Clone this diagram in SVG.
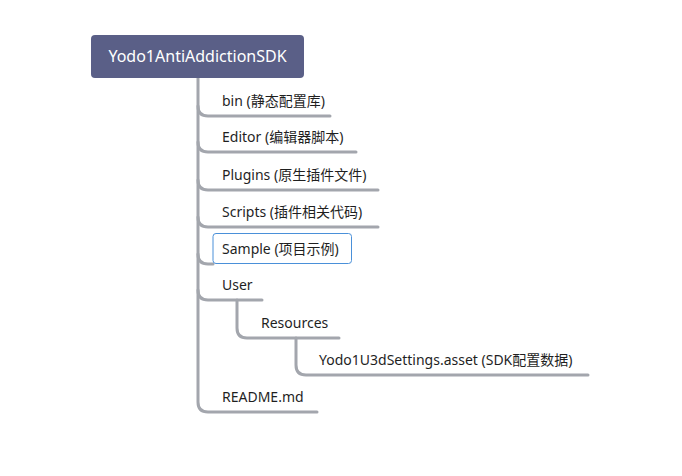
<svg xmlns="http://www.w3.org/2000/svg" width="682" height="476" viewBox="0 0 682 476">
<style>
.t{font-family:"Noto Sans","Noto Sans CJK SC",sans-serif;font-size:14px;fill:#1f1f1f}
.c{fill:none;stroke:#a3a6ad;stroke-width:3;stroke-linecap:round}
</style>
<rect width="682" height="476" fill="#ffffff"/>
<g id="connectors">
<path class="c" d="M198,78 V402 Q198,412 208,412 H317"/>
<path class="c" d="M198,106 Q198,116 208,116 H330"/>
<path class="c" d="M198,142 Q198,152 208,152 H356"/>
<path class="c" d="M198,180 Q198,190 208,190 H378"/>
<path class="c" d="M198,217 Q198,227 208,227 H378"/>
<path class="c" d="M198,254 Q198,264 208,264 H213"/>
<path class="c" d="M198,290 Q198,300 208,300 H262"/>
<path class="c" d="M237,300 V328 Q237,338 247,338 H339"/>
<path class="c" d="M296,338 V365 Q296,375 306,375 H588"/>
</g>
<g id="root">
<rect x="91" y="35" width="213" height="43" rx="4" fill="#5a5f87"/>
<text x="197.5" y="62" text-anchor="middle" style="font-family:'Noto Sans','Noto Sans CJK SC',sans-serif;font-size:16px;fill:#ffffff">Yodo1AntiAddictionSDK</text>
</g>
<g id="bin"><text class="t" x="222" y="106">bin (静态配置库)</text></g>
<g id="editor"><text class="t" x="222" y="142">Editor (编辑器脚本)</text></g>
<g id="plugins"><text class="t" x="222" y="180">Plugins (原生插件文件)</text></g>
<g id="scripts"><text class="t" x="222" y="217">Scripts (插件相关代码)</text></g>
<g id="sample">
<rect x="213" y="233.5" width="138.5" height="30" rx="3" fill="#ffffff" stroke="#4a90d9" stroke-width="1"/>
<text class="t" x="222" y="254">Sample (项目示例)</text>
</g>
<g id="user"><text class="t" x="222" y="290">User</text></g>
<g id="resources"><text class="t" x="261" y="328">Resources</text></g>
<g id="settings"><text class="t" x="319" y="365">Yodo1U3dSettings.asset (SDK配置数据)</text></g>
<g id="readme"><text class="t" x="222" y="402">README.md</text></g>
</svg>
